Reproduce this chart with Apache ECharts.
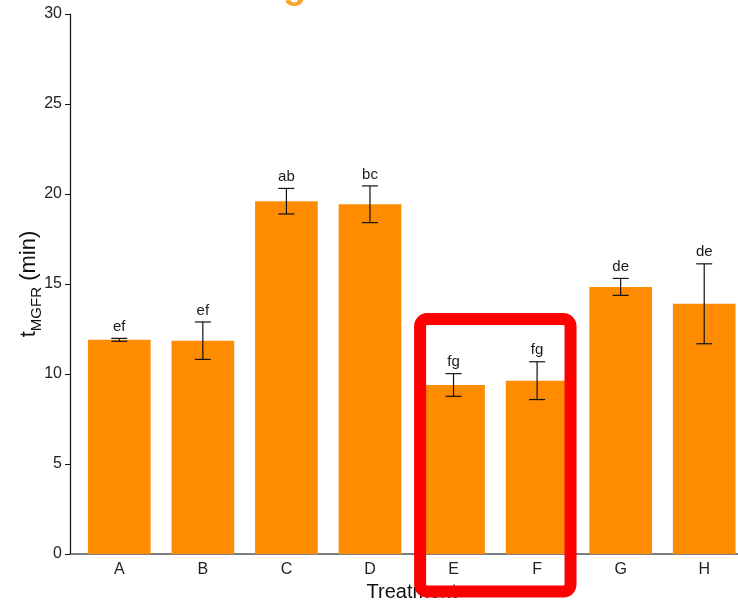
<!DOCTYPE html>
<html>
<head>
<meta charset="utf-8">
<script src="https://cdn.jsdelivr.net/npm/echarts@6/dist/echarts.min.js"></script>
<style>
  html, body { margin: 0; padding: 0; background: #fff; }
  #chart { width: 738px; height: 602px; }
</style>
</head>
<body>
<div id="chart"></div>
<script>
var treatments = ['A', 'B', 'C', 'D', 'E', 'F', 'G', 'H'];
var means = [11.9, 11.85, 19.6, 19.43, 9.39, 9.63, 14.84, 13.9];
var errors = [0.08, 1.04, 0.71, 1.02, 0.63, 1.05, 0.47, 2.22];
var letters = ['ef', 'ef', 'ab', 'bc', 'fg', 'fg', 'de', 'de'];
var yTicks = [0, 5, 10, 15, 20, 25, 30];

var errData = [];
for (var i = 0; i < treatments.length; i++) {
    errData.push([i, means[i] - errors[i], means[i] + errors[i]]);
}

var chart = echarts.init(document.getElementById('chart'));

function renderErr(params, api) {
    var lo = api.coord([api.value(0), api.value(1)]);
    var hi = api.coord([api.value(0), api.value(2)]);
    var cap = 8;
    var st = { stroke: '#111', lineWidth: 1.2 };
    return {
        type: 'group',
        children: [
            { type: 'line', shape: { x1: hi[0], y1: hi[1], x2: lo[0], y2: lo[1] }, style: st },
            { type: 'line', shape: { x1: hi[0] - cap, y1: hi[1], x2: hi[0] + cap, y2: hi[1] }, style: st },
            { type: 'line', shape: { x1: lo[0] - cap, y1: lo[1], x2: lo[0] + cap, y2: lo[1] }, style: st },
            {
                type: 'text',
                style: {
                    text: letters[params.dataIndex],
                    x: hi[0], y: hi[1] - 4,
                    align: 'center', verticalAlign: 'bottom',
                    fill: '#1a1a1a', font: '15px "Liberation Sans", Arial, sans-serif'
                }
            }
        ]
    };
}

var option = {
    backgroundColor: '#fff',
    animation: false,
    textStyle: { fontFamily: '"Liberation Sans", Arial, sans-serif' },
    title: {
        text: 'germination rate',
        left: 278,
        top: -36,
        textStyle: { color: '#F7A52B', fontSize: 38, fontWeight: 'bold' }
    },
    grid: [
        // plot area (bars), padded like a discrete ggplot scale
        { left: 77.5, right: -8, top: 14, bottom: 48, outerBoundsMode: 'none', containLabel: false },
        // only used to draw the full x axis line from the y axis
        { left: 70, right: 0, top: 14, bottom: 48, outerBoundsMode: 'none', containLabel: false }
    ],
    xAxis: [
        {
            type: 'category',
            gridIndex: 0,
            data: treatments,
            name: 'Treatment',
            nameLocation: 'middle',
            nameGap: 28,
            nameMoveOverlap: false,
            nameTextStyle: { fontSize: 20, color: '#111' },
            axisLine: { show: false },
            axisTick: { show: false },
            axisLabel: { fontSize: 16, color: '#222', margin: 8 }
        },
        {
            type: 'value',
            gridIndex: 1,
            axisLine: { show: true, onZero: false, lineStyle: { color: '#555', width: 1.5 } },
            axisTick: { show: false },
            axisLabel: { show: false },
            splitLine: { show: false }
        }
    ],
    yAxis: [
        {
            type: 'value',
            gridIndex: 0,
            min: yTicks[0],
            max: yTicks[yTicks.length - 1],
            interval: 5,
            offset: 7.5,
            name: '{a|t}{b|MGFR}{a| (min)}',
            nameLocation: 'middle',
            nameGap: 30,
            nameMoveOverlap: false,
            nameTextStyle: {
                rich: {
                    a: { fontSize: 22, color: '#111', lineHeight: 26, verticalAlign: 'bottom' },
                    b: { fontSize: 15, color: '#111', lineHeight: 26, verticalAlign: 'bottom', padding: [0, 0, -4, 0] }
                }
            },
            axisLine: { show: true, lineStyle: { color: '#111', width: 1.2 } },
            axisTick: { show: true, length: 5, lineStyle: { color: '#111' } },
            axisLabel: { fontSize: 16, color: '#222', margin: 8 },
            splitLine: { show: false }
        },
        {
            type: 'value',
            gridIndex: 1,
            show: false
        }
    ],
    series: [
        {
            type: 'bar',
            xAxisIndex: 0,
            yAxisIndex: 0,
            data: means,
            barWidth: '75%',
            itemStyle: { color: '#FF8C00' },
            z: 2
        },
        {
            type: 'custom',
            xAxisIndex: 0,
            yAxisIndex: 0,
            data: errData,
            renderItem: renderErr,
            encode: { x: 0, y: [1, 2] },
            z: 3
        }
    ]
};

chart.setOption(option);

// red highlight box around E and F
var band = chart.convertToPixel({ xAxisIndex: 0 }, 'F') - chart.convertToPixel({ xAxisIndex: 0 }, 'E');
var boxLeft = chart.convertToPixel({ xAxisIndex: 0 }, 'E') - band * 0.4;
var boxRight = chart.convertToPixel({ xAxisIndex: 0 }, 'F') + band * 0.4;
var boxTop = chart.convertToPixel({ yAxisIndex: 0 }, 13.05);
var boxBottom = chart.convertToPixel({ yAxisIndex: 0 }, -2.08);
chart.setOption({
    graphic: [{
        type: 'rect',
        shape: { x: boxLeft, y: boxTop, width: boxRight - boxLeft, height: boxBottom - boxTop, r: 7 },
        style: { fill: 'none', stroke: '#FF0000', lineWidth: 12 },
        z: 100
    }]
});
</script>
</body>
</html>
